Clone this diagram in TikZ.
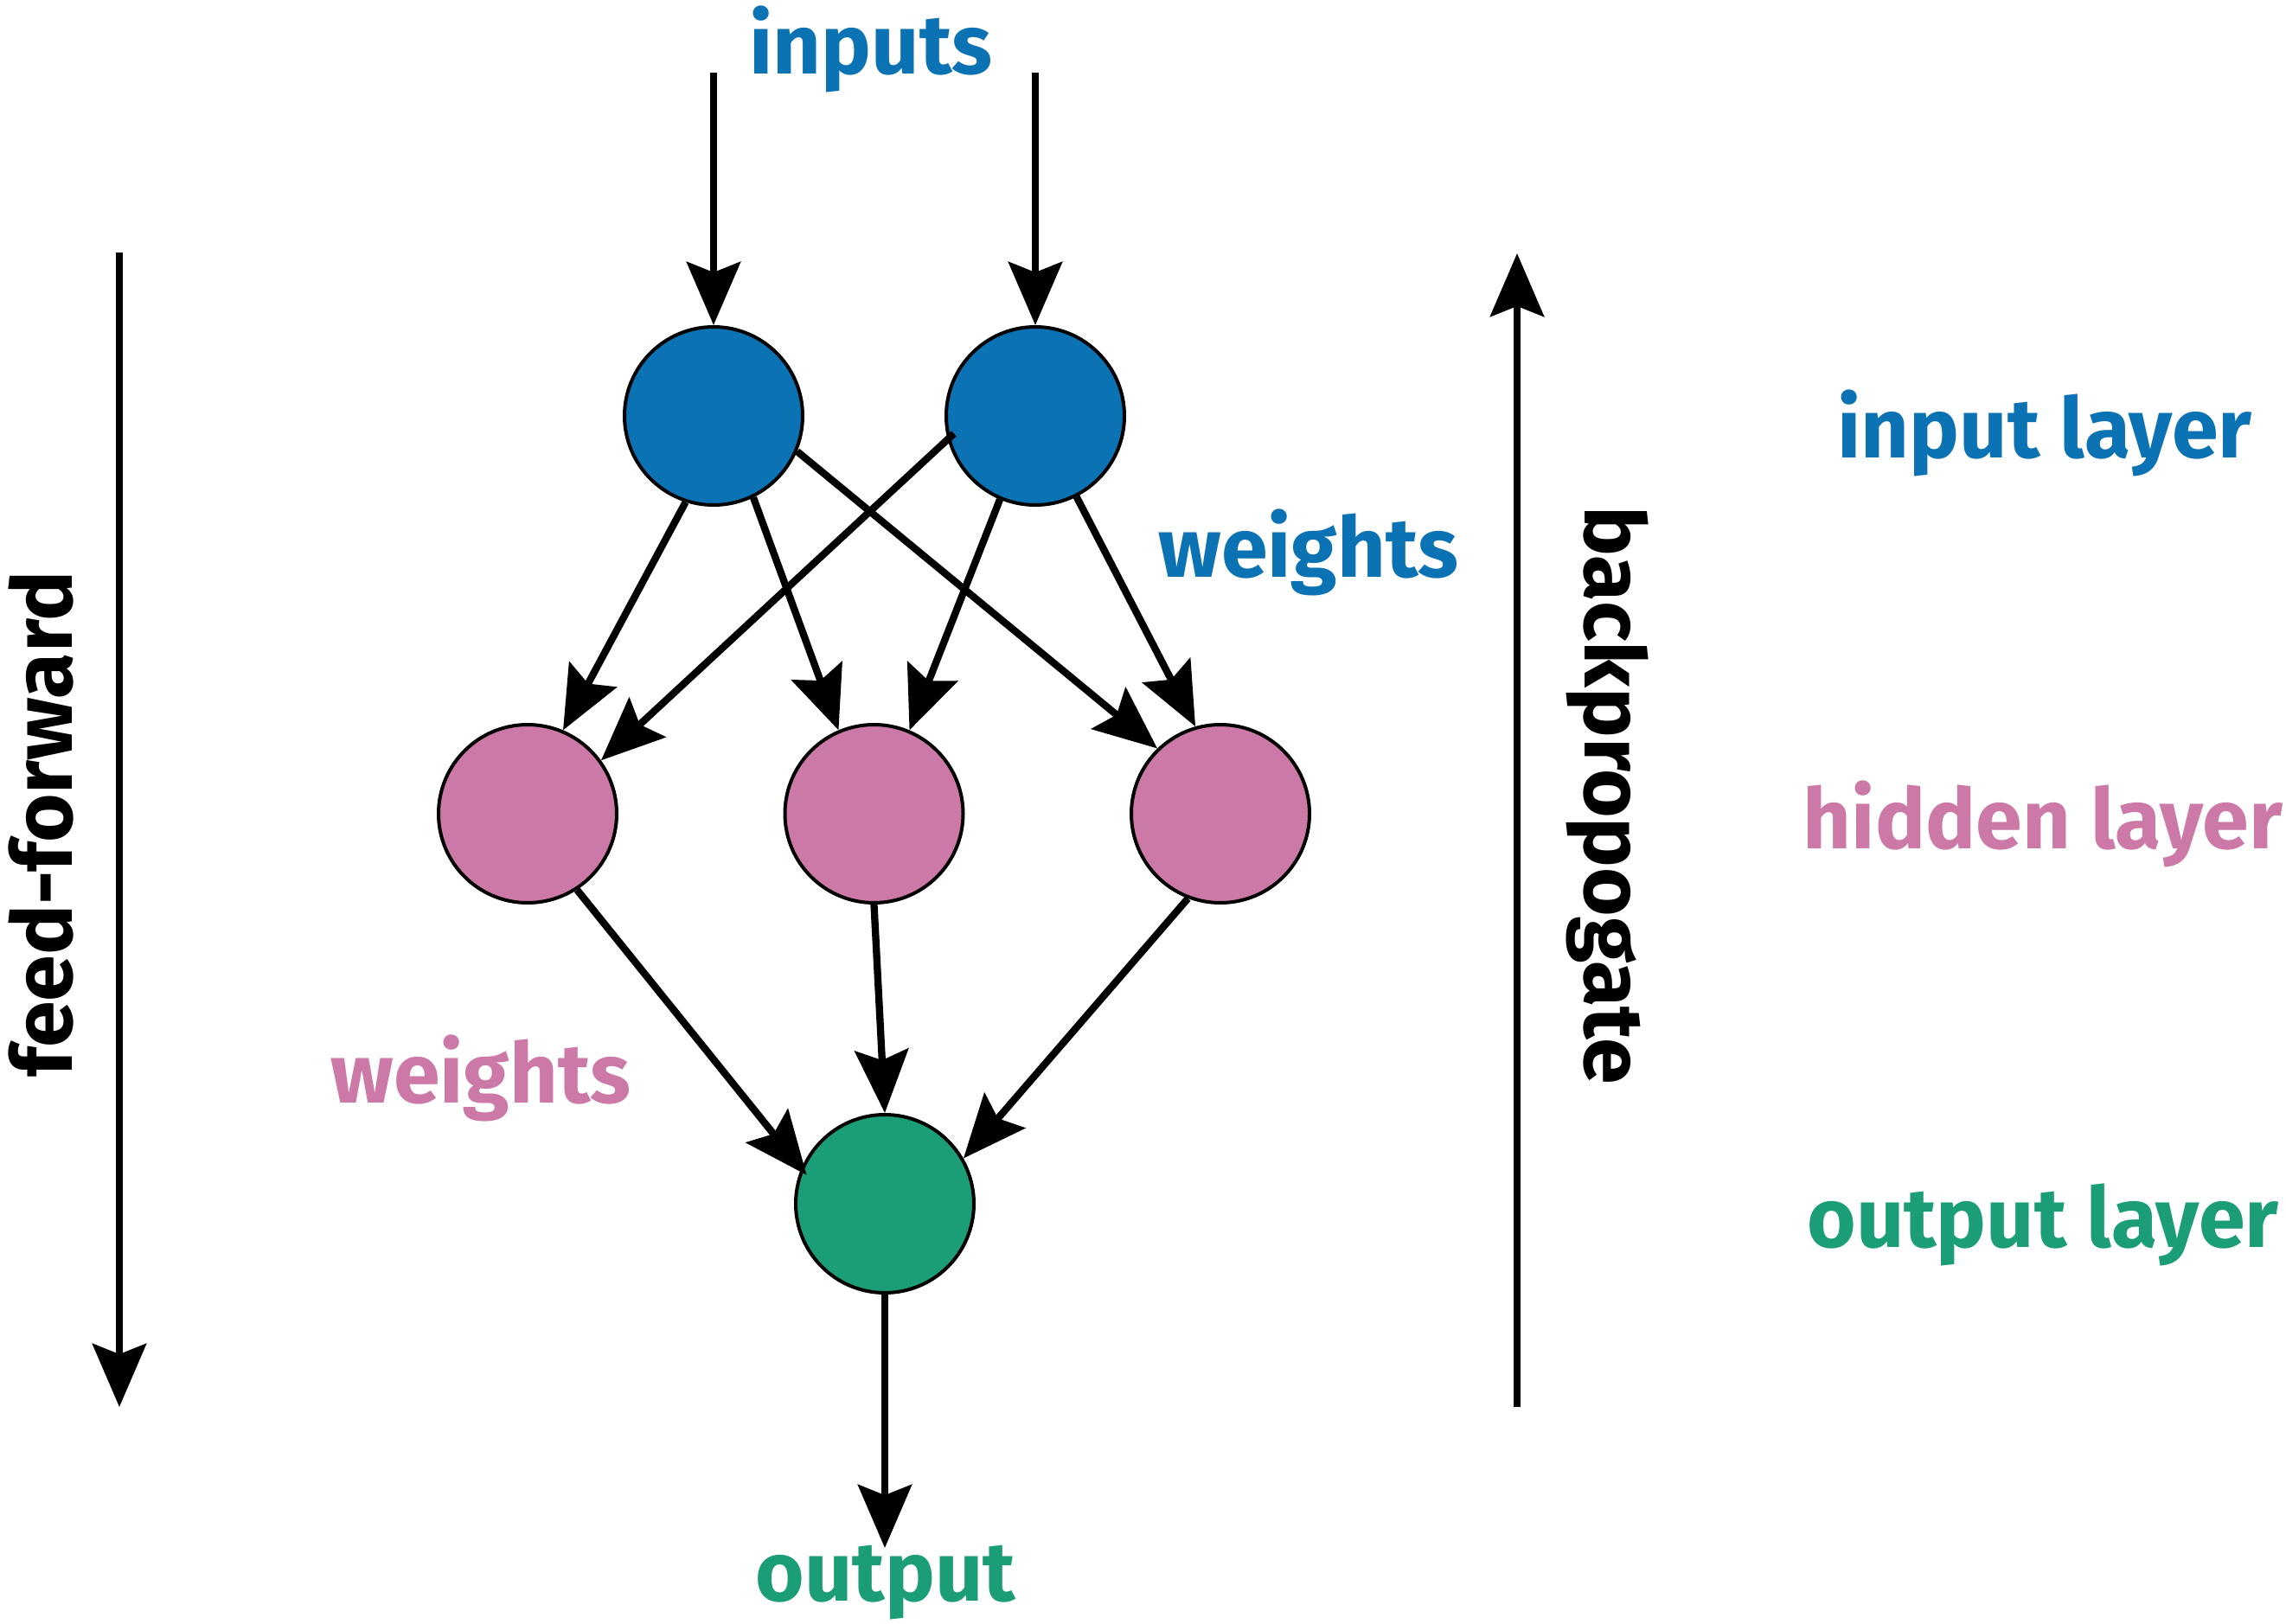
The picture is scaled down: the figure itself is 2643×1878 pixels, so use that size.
\documentclass[tikz,border=0pt]{standalone}
\usepackage{fontspec}
\setmainfont{Fira Sans}
\usetikzlibrary{arrows.meta,calc}
\definecolor{nnblue}{HTML}{0B72B4}
\definecolor{nnpink}{HTML}{CC79A7}
\definecolor{nngreen}{HTML}{1B9E77}
\begin{document}
\begin{tikzpicture}[x=1pt,y=-1pt,
  neuron/.style={circle,draw=black,line width=4pt,minimum size=206pt,inner sep=0pt},
  conn/.style={line width=8.3pt,-{Stealth[length=73pt,width=62pt,inset=12pt]}},
  lbl/.style={font=\fontsize{97}{102}\selectfont\bfseries,inner sep=0pt,anchor=base},
]
\fill[white] (0,0) rectangle (2643,1878);
\useasboundingbox (0,0) rectangle (2643,1878);

% neurons
\node[neuron,fill=nnblue]  (in1) at (825,481) {};
\node[neuron,fill=nnblue]  (in2) at (1197,481) {};
\node[neuron,fill=nnpink]  (h1)  at (610,941) {};
\node[neuron,fill=nnpink]  (h2)  at (1010.5,941) {};
\node[neuron,fill=nnpink]  (h3)  at (1411,941) {};
\node[neuron,fill=nngreen] (out) at (1023,1392) {};

% free ends
\coordinate (in1top) at (825,84);
\coordinate (in2top) at (1197,84);
\coordinate (outend) at (1023,1790);
\coordinate (fftop) at (138,292);
\coordinate (ffbot) at (138,1627);
\coordinate (bpbot) at (1754,1627);
\coordinate (bptop) at (1754,293);

% labels
\node[lbl,text=nnblue]  (linputs)  at (1007,86)   {inputs};
\node[lbl,text=nnblue]  (lw1)      at (1513,667)  {weights};
\node[lbl,text=nnpink]  (lw2)      at (556,1275)  {weights};
\node[lbl,text=nngreen] (loutput)  at (1024,1851) {output};
\node[lbl,text=nnblue]  (linlayer) at (2364,529)  {input layer};
\node[lbl,text=nnpink]  (lhlayer)  at (2362,981)  {hidden layer};
\node[lbl,text=nngreen] (lolayer)  at (2362,1442) {output layer};
\node[lbl,text=black,rotate=90]  (lff) at (83,953)    {feed-forward};
\node[lbl,text=black,rotate=-90] (lbp) at (1832,919.5) {backpropogate};

% connectors
\draw[conn] (in1top) -- (in1);
\draw[conn] (in2top) -- (in2);
\draw[conn] (in1.-108) -- (h1.67);
\draw[conn] (in1.-64) -- (h2.113);
\draw[conn] (in1.-23) -- (h3.134);
\draw[conn,shorten <=-10pt] (in2.195) -- (h1.36);
\draw[conn] (in2.-113) -- (h2.67);
\draw[conn] (in2.-63) -- (h3.106);
\draw[conn,shorten >=-10pt] (h1.-57) -- (out.157);
\draw[conn] (h2.south) -- (out.north);
\draw[conn] (h3.-111) -- (out.30);
\draw[conn] (out) -- (outend);
\draw[conn] (fftop) -- (ffbot);
\draw[conn] (bpbot) -- (bptop);
\end{tikzpicture}
\end{document}
